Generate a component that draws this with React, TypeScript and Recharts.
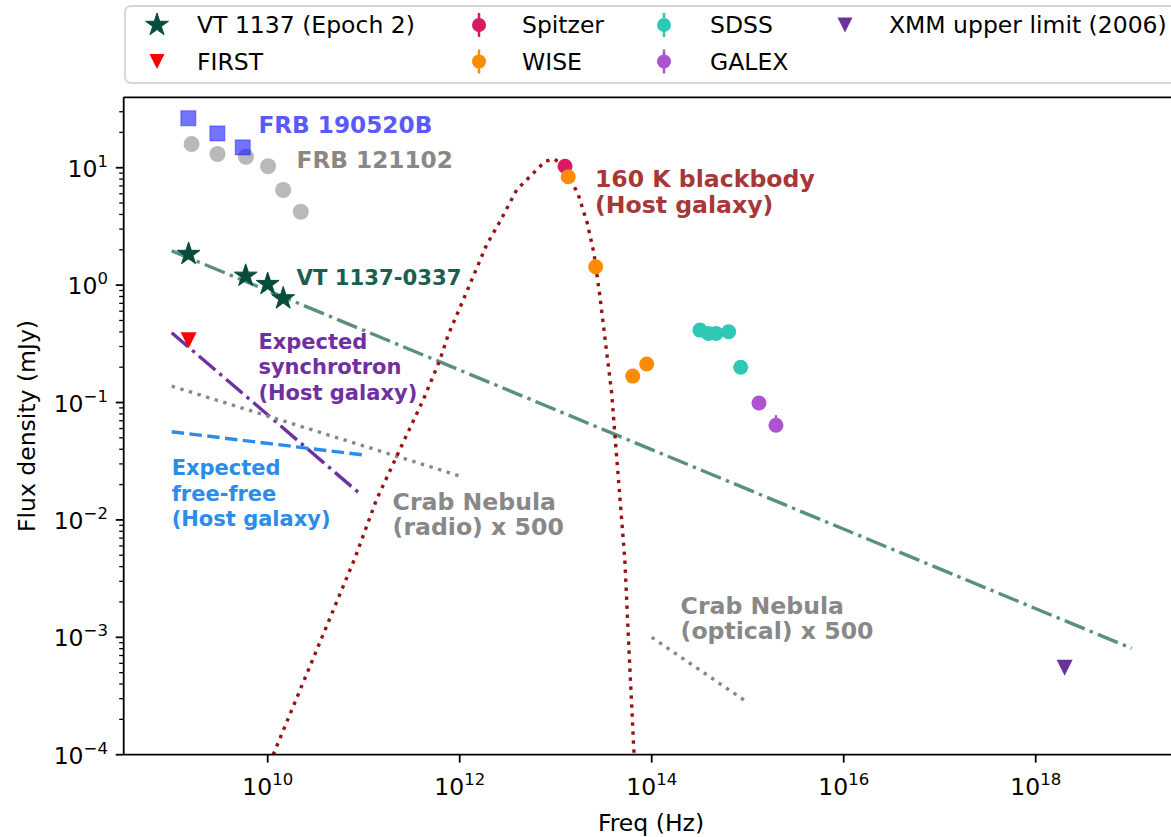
import React from "react";
import {
  ComposedChart,
  Line,
  Scatter,
  XAxis,
  YAxis,
  ReferenceLine,
  ErrorBar,
} from "recharts";

const FONT = "'DejaVu Sans', 'Liberation Sans', sans-serif";
const FS = 23.5;

// ---- axis ticks ----
const xTicks = [1e10, 1e12, 1e14, 1e16, 1e18];
const yMajorTicks = [1e-4, 1e-3, 1e-2, 1e-1, 1, 10];
const Y_MAX = 10 ** 1.6;
const yMinorTicks = yMajorTicks
  .flatMap((d) => [2, 3, 4, 5, 6, 7, 8, 9].map((m) => m * d))
  .filter((v) => v < Y_MAX);
const yTicks = [...yMajorTicks, ...yMinorTicks].sort((a, b) => a - b);

// ---- measured points (Hz, mJy) ----
const vtFreq = [1.5e9, 5.9e9, 1.0e10, 1.45e10];
const vtFlux = [1.84, 1.2, 1.02, 0.77];

const firstFreq = [1.5e9];
const firstFlux = [0.34];

const spitzerFreq = [1.25e13];
const spitzerFlux = [10.3];

const wiseFreq = [1.35e13, 2.61e13, 6.34e13, 8.87e13];
const wiseFlux = [8.38, 1.435, 0.168, 0.213];

const sdssFreq = [3.18e14, 3.89e14, 4.68e14, 6.34e14, 8.45e14];
const sdssFlux = [0.414, 0.388, 0.388, 0.401, 0.2];

const galexFreq = [1.31e15, 1.97e15];
const galexFlux = [0.099, 0.064];
const galexErr = [
  [0.003, 0.003],
  [0.005, 0.014],
];

const xmmFreq = [2e18];
const xmmFlux = [5.5e-4];

const frb190520bFreq = [1.49e9, 2.99e9, 5.5e9];
const frb190520bFlux = [26.4, 19.6, 14.9];

const frb121102Freq = [1.61e9, 3.0e9, 5.94e9, 1.01e10, 1.45e10, 2.21e10];
const frb121102Flux = [15.9, 13.1, 12.4, 10.3, 6.46, 4.22];

// ---- model lines ----
const vtFitFreq = [1e9, 1e19];
const vtFitFlux = [1.96, 8.05e-4];

const synchFreq = [1e9, 9e10];
const synchFlux = [0.393, 0.0169];

const freeFreeFreq = [1e9, 1e11];
const freeFreeFlux = [0.0564, 0.0357];

const crabRadioFreq = [1e9, 1e12];
const crabRadioFlux = [0.138, 0.0237];

const crabOpticalFreq = [1e14, 9.7e14];
const crabOpticalFlux = [1e-3, 2.83e-4];

const bbFreq = [
  1.14e10, 8.1e10, 1.36e11, 2.29e11, 4.18e11, 6.24e11, 7.6e11, 1.09e12,
  1.91e12, 2.63e12, 3.93e12, 7.74e12, 9.45e12, 1.28e13, 1.41e13, 1.72e13,
  2.13e13, 2.5e13, 2.89e13, 3.34e13, 3.83e13, 4.15e13, 5.25e13, 5.8e13,
  6.55e13,
];
const bbFlux = [
  1e-4, 4.73e-3, 1.49e-2, 0.0372, 0.1057, 0.232, 0.378, 0.75, 2.21, 3.49,
  6.5, 11.3, 11.9, 10.4, 8.2, 5.89, 3.38, 1.88, 0.8, 0.3, 0.12, 0.0514,
  4.58e-3, 7.8e-4, 1e-4,
];

// ---- annotations (anchor in data coords) ----
const noteLines = [
  ["FRB 190520B"],
  ["FRB 121102"],
  ["VT 1137-0337"],
  ["160 K blackbody", "(Host galaxy)"],
  ["Expected", "synchrotron", "(Host galaxy)"],
  ["Expected", "free-free", "(Host galaxy)"],
  ["Crab Nebula", "(radio) x 500"],
  ["Crab Nebula", "(optical) x 500"],
];
const noteFreq = [8e9, 2e10, 2e10, 2.56e13, 8e9, 1e9, 2e11, 2e14];
const noteFlux = [23.4, 11.9, 1.18, 7.96, 0.33, 0.0275, 0.0143, 1.85e-3];
const noteColor = [
  "#5a5af8",
  "#888888",
  "#1b5e50",
  "#a63838",
  "#7030a0",
  "#2b8cea",
  "#888888",
  "#888888",
];
const noteSize = [23.2, 23.2, 21.2, 23.6, 21, 21, 23.6, 23.6];

const pts = (xs: number[], ys: number[]) =>
  xs.map((x, i) => ({ x, y: ys[i] }));

// ---- marker shapes ----
const starPoints = (cx: number, cy: number, R: number) => {
  const r = R * 0.381966;
  const out: string[] = [];
  for (let i = 0; i < 10; i++) {
    const rad = i % 2 === 0 ? R : r;
    const a = -Math.PI / 2 + (i * Math.PI) / 5;
    out.push(`${cx + rad * Math.cos(a)},${cy + rad * Math.sin(a)}`);
  }
  return out.join(" ");
};

const Star = ({ cx, cy, fill, R = 12 }: any) => (
  <polygon points={starPoints(cx, cy, R)} fill={fill} stroke={fill} strokeWidth={1} />
);

const TriDown = ({ cx, cy, fill, s = 16 }: any) => (
  <polygon
    points={`${cx - s / 2},${cy - s / 2} ${cx + s / 2},${cy - s / 2} ${cx},${cy + s / 2}`}
    fill={fill}
  />
);

const Dot = ({ cx, cy, fill, r = 7.5, opacity = 1 }: any) => (
  <circle cx={cx} cy={cy} r={r} fill={fill} fillOpacity={opacity} />
);

const Square = ({ cx, cy }: any) => (
  <rect
    x={cx - 7.5}
    y={cy - 7.5}
    width={15}
    height={15}
    fill="#0000ff"
    fillOpacity={0.55}
    stroke="#0000ff"
    strokeOpacity={0.35}
    strokeWidth={1.2}
  />
);

// ---- ticks ----
const XTick = (props: any) => {
  const { x, y, payload } = props;
  const e = Math.round(Math.log10(payload.value));
  return (
    <g>
      <line x1={x} x2={x} y1={y} y2={y + 7.9} stroke="#000" strokeWidth={1.8} />
      <text x={x} y={y + 40} textAnchor="middle" fontFamily={FONT} fontSize={FS} fill="#000">
        <tspan>10</tspan>
        <tspan dy={-10} fontSize={16.5}>
          {e}
        </tspan>
      </text>
    </g>
  );
};

const YTick = (props: any) => {
  const { x, y, payload } = props;
  const lg = Math.log10(payload.value);
  const major = Math.abs(lg - Math.round(lg)) < 1e-6;
  if (!major) {
    return <line x1={x - 4.5} x2={x} y1={y} y2={y} stroke="#000" strokeWidth={1.3} />;
  }
  const e = Math.round(lg);
  const es = e < 0 ? `\u2212${-e}` : `${e}`;
  return (
    <g>
      <line x1={x - 7.9} x2={x} y1={y} y2={y} stroke="#000" strokeWidth={1.8} />
      <text x={x - 15.8} y={y + 9} textAnchor="end" fontFamily={FONT} fontSize={FS} fill="#000">
        <tspan>10</tspan>
        <tspan dy={-10} fontSize={16.5}>
          {es}
        </tspan>
      </text>
    </g>
  );
};

const noteShape = (i: number) => (p: any) => (
  <text
    x={p.cx}
    y={p.cy}
    fontFamily={FONT}
    fontWeight="bold"
    fontSize={noteSize[i]}
    fill={noteColor[i]}
    dominantBaseline="central"
  >
    {noteLines[i].map((t, k) => (
      <tspan key={k} x={p.cx} dy={k === 0 ? 0 : 25.5}>
        {t}
      </tspan>
    ))}
  </text>
);

// ---- legend ----
const legendLabels = [
  "VT 1137 (Epoch 2)",
  "FIRST",
  "Spitzer",
  "WISE",
  "SDSS",
  "GALEX",
  "XMM upper limit (2006)",
];
const legendColors = ["#084c3d", "#ff0000", "#d81b60", "#ff8c00", "#2ec8b5", "#ac54d0", "#6a329f"];
const legendKinds = ["star", "tri", "err", "err", "err", "err", "tri"];
const legendCol = [0, 0, 1, 1, 2, 2, 3];
const legendRow = [0, 1, 0, 1, 0, 1, 0];

function LegendBox() {
  const markX = [157, 479, 664, 845];
  const textX = [197, 522, 710, 889];
  const rowY = [25, 61.5];
  return (
    <svg
      width={1171}
      height={100}
      style={{ position: "absolute", left: 0, top: 0, pointerEvents: "none" }}
    >
      <rect x={125} y={6} width={1100} height={77} rx={6} fill="#fff" stroke="#d6d6d6" strokeWidth={1.8} />
      {legendLabels.map((lab, i) => {
        const mx = markX[legendCol[i]];
        const tx = textX[legendCol[i]];
        const cy = rowY[legendRow[i]];
        const c = legendColors[i];
        const k = legendKinds[i];
        return (
          <g key={lab}>
            {k === "star" && <Star cx={mx} cy={cy} fill={c} R={12} />}
            {k === "tri" && <TriDown cx={mx} cy={cy} fill={c} s={15} />}
            {k === "err" && (
              <g>
                <line x1={mx} x2={mx} y1={cy - 12} y2={cy + 12} stroke={c} strokeWidth={2.5} />
                <circle cx={mx} cy={cy} r={7} fill={c} />
              </g>
            )}
            <text x={tx} y={cy} dominantBaseline="central" fontFamily={FONT} fontSize={FS} fill="#000">
              {lab}
            </text>
          </g>
        );
      })}
    </svg>
  );
}

export default function App() {
  return (
    <div
      style={{
        position: "fixed",
        left: 0,
        top: 0,
        width: 1171,
        height: 837,
        overflow: "hidden",
        background: "#fff",
      }}
    >
      <ComposedChart
        width={1190}
        height={837}
        margin={{ top: 97.3, right: 10.3, bottom: 42.3, left: 63.7 }}
      >
        <XAxis
          dataKey="x"
          type="number"
          scale="log"
          domain={[10 ** 8.5, 10 ** 19.5]}
          allowDataOverflow
          ticks={xTicks}
          interval={0}
          tickSize={0}
          tickMargin={0}
          tickLine={false}
          tick={<XTick />}
          height={40}
          axisLine={{ stroke: "#000", strokeWidth: 1.8 }}
        />
        <YAxis
          dataKey="y"
          type="number"
          scale="log"
          domain={[1e-4, Y_MAX]}
          allowDataOverflow
          ticks={yTicks}
          interval={0}
          tickSize={0}
          tickMargin={0}
          tickLine={false}
          tick={<YTick />}
          width={60}
          axisLine={{ stroke: "#000", strokeWidth: 1.8 }}
        />
        <ReferenceLine y={Y_MAX} stroke="#000" strokeWidth={1.8} />

        <Line
          data={pts(vtFitFreq, vtFitFlux)}
          dataKey="y"
          stroke="#0b5a4a"
          strokeOpacity={0.68}
          strokeWidth={3.4}
          strokeDasharray="21.6 5.4 3.4 5.4"
          dot={false}
          activeDot={false}
          isAnimationActive={false}
        />
        <Line
          data={pts(synchFreq, synchFlux)}
          dataKey="y"
          stroke="#7030a0"
          strokeWidth={3.4}
          strokeDasharray="21.6 5.4 3.4 5.4"
          dot={false}
          activeDot={false}
          isAnimationActive={false}
        />
        <Line
          data={pts(freeFreeFreq, freeFreeFlux)}
          dataKey="y"
          stroke="#2b8cea"
          strokeWidth={3.4}
          strokeDasharray="12.5 5.4"
          dot={false}
          activeDot={false}
          isAnimationActive={false}
        />
        <Line
          data={pts(crabRadioFreq, crabRadioFlux)}
          dataKey="y"
          stroke="#888888"
          strokeWidth={3.4}
          strokeDasharray="3.4 5.6"
          dot={false}
          activeDot={false}
          isAnimationActive={false}
        />
        <Line
          data={pts(crabOpticalFreq, crabOpticalFlux)}
          dataKey="y"
          stroke="#888888"
          strokeWidth={3.4}
          strokeDasharray="3.4 5.6"
          dot={false}
          activeDot={false}
          isAnimationActive={false}
        />
        <Line
          data={pts(bbFreq, bbFlux)}
          dataKey="y"
          stroke="#9a1111"
          strokeWidth={3.4}
          strokeDasharray="3.4 5.6"
          dot={false}
          activeDot={false}
          isAnimationActive={false}
        />

        <Scatter
          data={pts(frb121102Freq, frb121102Flux)}
          dataKey="y"
          isAnimationActive={false}
          shape={(p: any) => <Dot cx={p.cx} cy={p.cy} r={8} fill="#808080" opacity={0.55} />}
        />
        <Scatter
          data={pts(frb190520bFreq, frb190520bFlux)}
          dataKey="y"
          isAnimationActive={false}
          shape={(p: any) => <Square cx={p.cx} cy={p.cy} />}
        />
        <Scatter
          data={pts(firstFreq, firstFlux)}
          dataKey="y"
          isAnimationActive={false}
          shape={(p: any) => <TriDown cx={p.cx} cy={p.cy} fill="#ff0000" s={16} />}
        />
        <Scatter
          data={pts(vtFreq, vtFlux)}
          dataKey="y"
          isAnimationActive={false}
          shape={(p: any) => <Star cx={p.cx} cy={p.cy} fill="#084c3d" R={12} />}
        />
        <Scatter
          data={pts(spitzerFreq, spitzerFlux)}
          dataKey="y"
          isAnimationActive={false}
          shape={(p: any) => <Dot cx={p.cx} cy={p.cy} fill="#d81b60" />}
        />
        <Scatter
          data={pts(wiseFreq, wiseFlux)}
          dataKey="y"
          isAnimationActive={false}
          shape={(p: any) => <Dot cx={p.cx} cy={p.cy} fill="#ff8c00" />}
        />
        <Scatter
          data={pts(sdssFreq, sdssFlux)}
          dataKey="y"
          isAnimationActive={false}
          shape={(p: any) => <Dot cx={p.cx} cy={p.cy} fill="#2ec8b5" />}
        />
        <Scatter
          data={galexFreq.map((x, i) => ({ x, y: galexFlux[i], err: galexErr[i] }))}
          dataKey="y"
          isAnimationActive={false}
          shape={(p: any) => <Dot cx={p.cx} cy={p.cy} fill="#ac54d0" />}
        >
          <ErrorBar dataKey="err" direction="y" width={0} stroke="#ac54d0" strokeWidth={2.5} />
        </Scatter>
        <Scatter
          data={pts(xmmFreq, xmmFlux)}
          dataKey="y"
          isAnimationActive={false}
          shape={(p: any) => <TriDown cx={p.cx} cy={p.cy} fill="#6a329f" s={16} />}
        />

        {noteLines.map((_, i) => (
          <Scatter
            key={`note-${i}`}
            data={[{ x: noteFreq[i], y: noteFlux[i] }]}
            dataKey="y"
            isAnimationActive={false}
            shape={noteShape(i)}
          />
        ))}
      </ComposedChart>

      <LegendBox />

      <svg
        width={1171}
        height={837}
        style={{ position: "absolute", left: 0, top: 0, pointerEvents: "none" }}
      >
        <text
          x={651}
          y={823}
          textAnchor="middle"
          dominantBaseline="central"
          fontFamily={FONT}
          fontSize={FS}
          fill="#000"
        >
          Freq (Hz)
        </text>
        <text
          transform="translate(27,426) rotate(-90)"
          textAnchor="middle"
          dominantBaseline="central"
          fontFamily={FONT}
          fontSize={FS}
          fill="#000"
        >
          Flux density (mJy)
        </text>
      </svg>
    </div>
  );
}
